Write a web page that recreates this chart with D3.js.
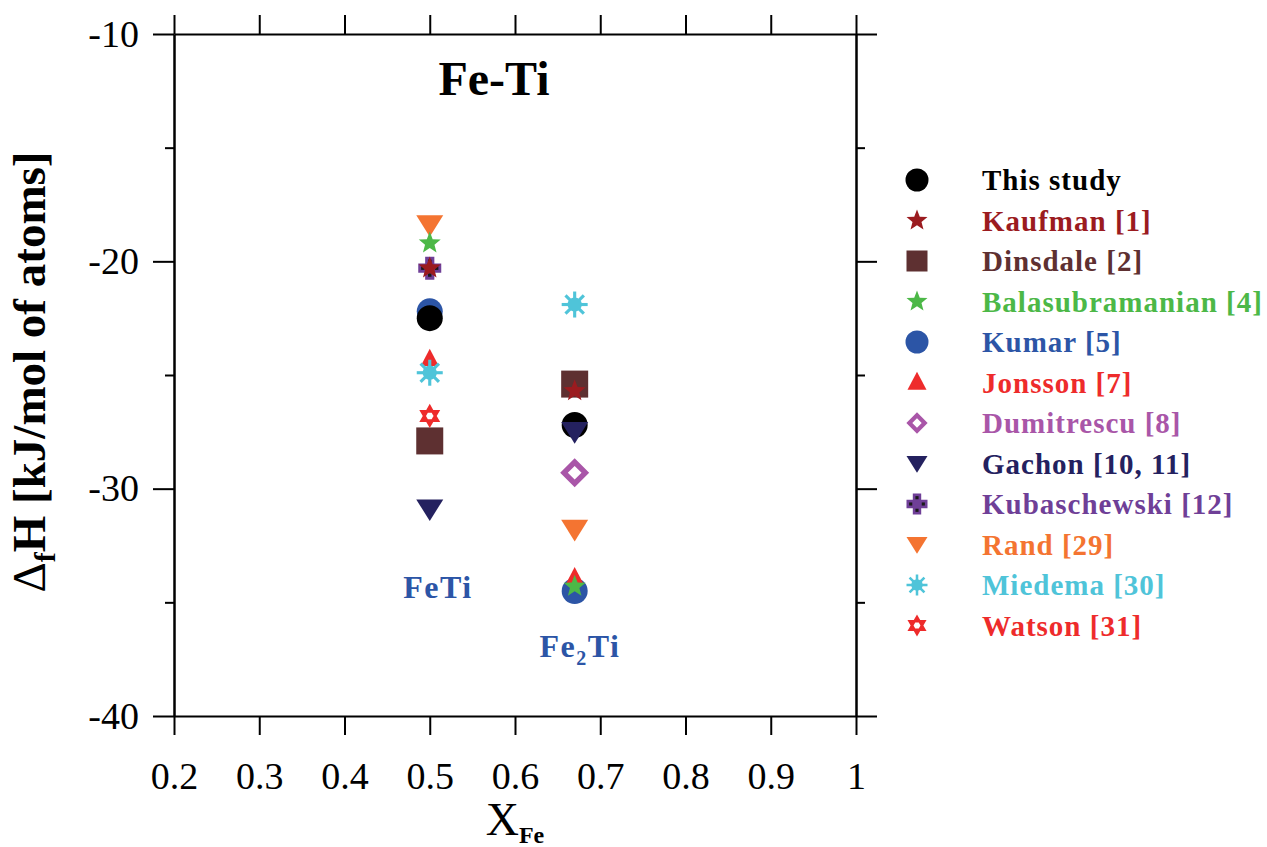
<!DOCTYPE html>
<html>
<head>
<meta charset="utf-8">
<script src="https://cdn.jsdelivr.net/npm/d3@7"></script>
<style>
    body { margin: 0; background: #fff; }
    svg text { font-family: "Liberation Serif", "Times New Roman", serif; }
</style>
</head>
<body>
<svg id="chart" width="1267" height="847"></svg>
<script>
// data
const sources = ["This study", "Kaufman [1]", "Dinsdale [2]", "Balasubramanian [4]", "Kumar [5]", "Jonsson [7]",
    "Dumitrescu [8]", "Gachon [10, 11]", "Kubaschewski [12]", "Rand [29]", "Miedema [30]", "Watson [31]"];
const colors = ["#000000", "#9b1b1f", "#5e3031", "#4cb847", "#2c55a6", "#ee2b2b",
    "#a956a8", "#24215f", "#6f3f97", "#f47431", "#4fc4d9", "#ee2b2b"];
const symbols = ["circle", "star", "square", "star", "circle", "triangle",
    "diamond", "triangleDown", "cross", "triangleDown", "asterisk", "hexagram"];
const compositions = [0.5, 0.67];
const phaseLabels = ["FeTi", "Fe2Ti"];
// enthalpy of formation, kJ/mol of atoms (null = not reported)
const dHFeTi  = [-22.5, -20.3, -27.9, -19.2, -22.2, -24.3, null, -30.9, -20.3, -18.4, -24.9, -26.8];
const dHFe2Ti = [-27.2, -25.7, -25.4, -34.3, -34.5, -33.9, -29.3, -27.5, null, -31.8, -21.9, null];
const xTicks = [0.2, 0.3, 0.4, 0.5, 0.6, 0.7, 0.8, 0.9, 1];
const yMajorTicks = [-10, -20, -30, -40];
const yMinorTicks = [-15, -25, -35];
// order in which the series were plotted (later ones on top)
const drawOrder = [4, 0, 2, 8, 1, 5, 10, 11, 6, 7, 9, 3];

const svg = d3.select("#chart");

const x = d3.scaleLinear().domain([0.2, 1]).range([174, 856]);
const y = d3.scaleLinear().domain([-40, -10]).range([716, 34]);

function styleAxis(g) {
    g.attr("font-family", null);
    g.selectAll("path, line").attr("stroke", "#000").attr("stroke-width", 2);
    g.selectAll("text").attr("fill", "#000").attr("font-size", 38);
}

// axes: ticks pointing outwards on all four sides
svg.append("g").attr("transform", `translate(0, ${y(-40)})`)
    .call(d3.axisBottom(x).tickValues(xTicks).tickSize(19).tickSizeOuter(0).tickPadding(27)
        .tickFormat(d => String(d)))
    .call(styleAxis);
svg.append("g").attr("transform", `translate(0, ${y(-10)})`)
    .call(d3.axisTop(x).tickValues(xTicks).tickSize(19).tickSizeOuter(0).tickFormat(""))
    .call(styleAxis);
svg.append("g").attr("transform", `translate(${x(0.2)}, 0)`)
    .call(d3.axisLeft(y).tickValues(yMajorTicks).tickSize(21).tickSizeOuter(0).tickPadding(14)
        .tickFormat(d => String(d)))
    .call(styleAxis);
svg.append("g").attr("transform", `translate(${x(0.2)}, 0)`)
    .call(d3.axisLeft(y).tickValues(yMinorTicks).tickSize(9).tickSizeOuter(0).tickFormat(""))
    .call(styleAxis);
svg.append("g").attr("transform", `translate(${x(1)}, 0)`)
    .call(d3.axisRight(y).tickValues(yMajorTicks).tickSize(21).tickSizeOuter(0).tickFormat(""))
    .call(styleAxis);
svg.append("g").attr("transform", `translate(${x(1)}, 0)`)
    .call(d3.axisRight(y).tickValues(yMinorTicks).tickSize(9).tickSizeOuter(0).tickFormat(""))
    .call(styleAxis);

// marker shapes, w = nominal width in px
function starPath(R, r) {
    const pts = d3.range(10).map(i => {
        const a = -Math.PI / 2 + i * Math.PI / 5;
        const rr = i % 2 ? r : R;
        return [rr * Math.cos(a), rr * Math.sin(a)];
    });
    return "M" + pts.join("L") + "Z";
}

function hexagramPath(R) {
    const pts = d3.range(12).map(i => {
        const a = -Math.PI / 2 + i * Math.PI / 6;
        const rr = i % 2 ? R / Math.sqrt(3) : R;
        return [rr * Math.cos(a), rr * Math.sin(a)];
    });
    return "M" + pts.join("L") + "Z";
}

function drawMarker(g, type, color, w) {
    const r = w / 2;
    switch (type) {
        case "circle":
            g.append("circle").attr("r", r).attr("fill", color);
            break;
        case "square":
            g.append("rect").attr("x", -r).attr("y", -r).attr("width", w).attr("height", w).attr("fill", color);
            break;
        case "star":
            g.append("path").attr("d", starPath(r * 1.05, r * 0.45)).attr("fill", color);
            break;
        case "triangle": {
            const h = w * 0.95;
            g.append("path").attr("d", `M0,${-h * 0.6}L${r},${h * 0.4}L${-r},${h * 0.4}Z`).attr("fill", color);
            break;
        }
        case "triangleDown": {
            const h = w * 0.8;
            g.append("path").attr("d", `M${-r},${-h * 0.45}L${r},${-h * 0.45}L0,${h * 0.55}Z`).attr("fill", color);
            break;
        }
        case "diamond": {
            const s = w / Math.SQRT2 - 4;
            g.append("rect").attr("x", -s / 2).attr("y", -s / 2).attr("width", s).attr("height", s)
                .attr("transform", "rotate(45)")
                .attr("fill", "#fff").attr("stroke", color).attr("stroke-width", w * 0.2);
            break;
        }
        case "cross": {
            const a = w * 0.2;
            g.append("path")
                .attr("d", `M${-a},${-r}H${a}V${-a}H${r}V${a}H${a}V${r}H${-a}V${a}H${-r}V${-a}H${-a}Z`)
                .attr("fill", color);
            const b = a * 0.75;
            [[0, -r + a], [0, r - a], [-r + a, 0], [r - a, 0]].forEach(p => {
                g.append("rect").attr("x", p[0] - b / 2).attr("y", p[1] - b / 2)
                    .attr("width", b).attr("height", b).attr("fill", "#1a1a1a");
            });
            break;
        }
        case "asterisk":
            d3.range(8).forEach(i => {
                const a = i * Math.PI / 4;
                g.append("line").attr("x1", 0).attr("y1", 0)
                    .attr("x2", r * Math.cos(a)).attr("y2", r * Math.sin(a))
                    .attr("stroke", color).attr("stroke-width", w * 0.12);
            });
            g.append("circle").attr("r", r * 0.55).attr("fill", color);
            break;
        case "hexagram":
            g.append("path").attr("d", hexagramPath(r * 1.05)).attr("fill", color);
            g.append("path").attr("d", d3.range(6).map((i, k) => {
                const a = -Math.PI / 3 + i * Math.PI / 3;
                return (k ? "L" : "M") + [r * 0.33 * Math.cos(a), r * 0.33 * Math.sin(a)];
            }).join("") + "Z").attr("fill", "#fff");
            break;
    }
}

const plotWidths = {circle: 26, star: 22, square: 27, triangle: 18, triangleDown: 27,
    diamond: 27, cross: 23, asterisk: 26, hexagram: 23};

// data points
const points = svg.append("g");
drawOrder.forEach(i => {
    [dHFeTi[i], dHFe2Ti[i]].forEach((v, k) => {
        if (v === null) return;
        const g = points.append("g").attr("transform", `translate(${x(compositions[k])}, ${y(v)})`);
        drawMarker(g, symbols[i], colors[i], plotWidths[symbols[i]]);
    });
});

// phase labels
const phaseColor = "#2c55a6";
svg.append("text").attr("x", 438).attr("y", 598).attr("text-anchor", "middle")
    .attr("font-size", 32).attr("font-weight", "bold").attr("fill", phaseColor)
    .attr("letter-spacing", 1.5).text(phaseLabels[0]);
const fe2ti = svg.append("text").attr("x", 580).attr("y", 657).attr("text-anchor", "middle")
    .attr("font-size", 32).attr("font-weight", "bold").attr("fill", phaseColor).attr("letter-spacing", 1.5);
fe2ti.append("tspan").text("Fe");
fe2ti.append("tspan").attr("font-size", 20).attr("dy", 8).text("2");
fe2ti.append("tspan").attr("dy", -8).text("Ti");

// title
svg.append("text").attr("x", 494).attr("y", 95).attr("text-anchor", "middle")
    .attr("font-size", 48).attr("font-weight", "bold").attr("fill", "#000").text("Fe-Ti");

// axis titles
const yTitle = svg.append("text").attr("transform", "translate(45, 372) rotate(-90)")
    .attr("text-anchor", "middle").attr("font-size", 47).attr("font-weight", "bold").attr("fill", "#000");
yTitle.append("tspan").attr("font-weight", "normal").text("\u0394");
yTitle.append("tspan").attr("font-size", 30).attr("dy", 10).text("f");
yTitle.append("tspan").attr("dy", -10).text("H [kJ/mol of atoms]");

const xTitle = svg.append("text").attr("x", 515).attr("y", 835).attr("text-anchor", "middle").attr("fill", "#000");
xTitle.append("tspan").attr("font-size", 46).text("X");
xTitle.append("tspan").attr("font-size", 24).attr("font-weight", "bold").attr("dy", 8).text("Fe");

// legend
const legend = svg.append("g");
sources.forEach((name, i) => {
    const row = legend.append("g").attr("transform", `translate(0, ${180 + i * 40.5})`);
    drawMarker(row.append("g").attr("transform", "translate(917, 0)"), symbols[i], colors[i],
        symbols[i] === "circle" ? 23 : (symbols[i] === "triangle" ? 19 : 21));
    row.append("text").attr("x", 982).attr("dy", "0.35em").attr("font-size", 29)
        .attr("letter-spacing", 1).attr("font-weight", "bold").attr("fill", colors[i]).text(name);
});
</script>
</body>
</html>
